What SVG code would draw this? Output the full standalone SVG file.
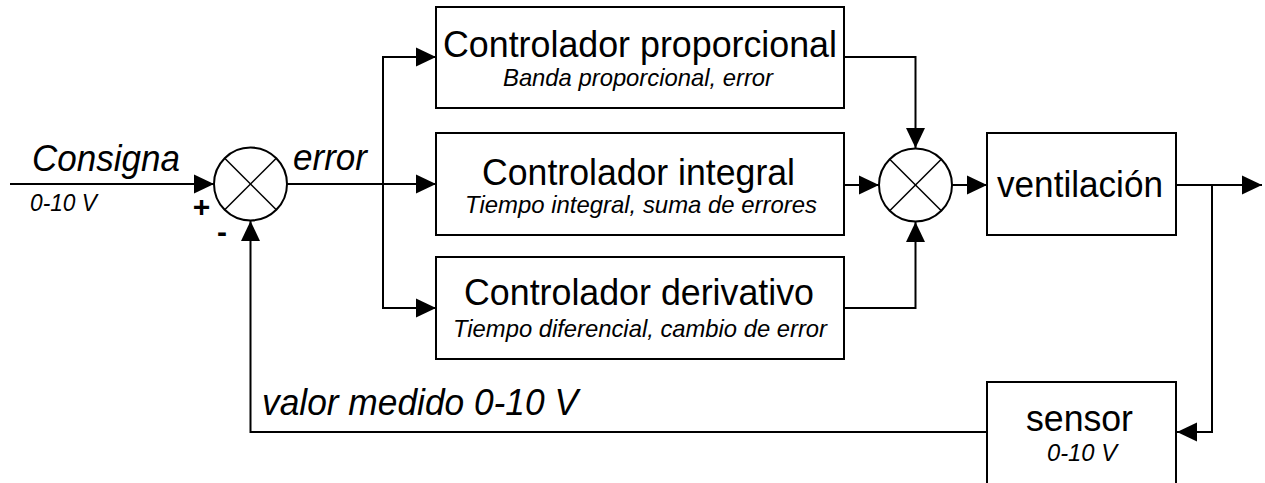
<svg xmlns="http://www.w3.org/2000/svg" width="1265" height="483" viewBox="0 0 1265 483">
<style>
.box{fill:#fff;stroke:#000;stroke-width:2}
.sum{fill:#fff;stroke:#000;stroke-width:2}
.x{stroke:#000;stroke-width:1.5}
.c{fill:none;stroke:#000;stroke-width:2;marker-end:url(#arr)}
.t{font-family:"Liberation Sans",Arial,sans-serif;font-size:37px;fill:#000}
.s{font-family:"Liberation Sans",Arial,sans-serif;font-size:24px;font-style:italic;fill:#000}
.i{font-style:italic}
.m{text-anchor:middle}
.b{font-family:"Liberation Sans",Arial,sans-serif;font-weight:bold;font-size:30px;fill:#000}
</style>
<defs>
<marker id="arr" viewBox="0 0 20 20" refX="20" refY="10" markerWidth="20" markerHeight="20" markerUnits="userSpaceOnUse" orient="auto">
<path d="M0,0.5 L20,10 L0,19.5 z" fill="#000"/>
</marker>
</defs>
<g id="connectors">
<path class="c" d="M10,184 H214"/>
<path class="c" d="M287,184 H436"/>
<path class="c" d="M383,184 V57 H436"/>
<path class="c" d="M383,184 V308 H436"/>
<path class="c" d="M844,57 H915.5 V148"/>
<path class="c" d="M844,185 H879"/>
<path class="c" d="M844,308 H915.5 V222"/>
<path class="c" d="M952,185 H987"/>
<path class="c" d="M1176,185 H1262"/>
<path class="c" d="M1212,185 V432 H1177"/>
<path class="c" d="M987,432 H250.5 V221"/>
</g>
<g id="sum1">
<circle class="sum" cx="250.5" cy="184" r="36.5"/>
<line class="x" x1="224.7" y1="158.2" x2="276.3" y2="209.8"/>
<line class="x" x1="276.3" y1="158.2" x2="224.7" y2="209.8"/>
</g>
<g id="sum2">
<circle class="sum" cx="915.5" cy="185" r="36.5"/>
<line class="x" x1="889.7" y1="159.2" x2="941.3" y2="210.8"/>
<line class="x" x1="941.3" y1="159.2" x2="889.7" y2="210.8"/>
</g>
<g id="labels">
<text class="t i" x="32" y="171" textLength="148" lengthAdjust="spacingAndGlyphs">Consigna</text>
<text class="s" x="30" y="211" textLength="67" lengthAdjust="spacingAndGlyphs">0-10 V</text>
<text class="t i" x="293" y="170" textLength="74" lengthAdjust="spacingAndGlyphs">error</text>
<text class="b m" x="201.5" y="217">+</text>
<text class="b m" x="222" y="242">-</text>
<text class="t i" x="262" y="415" textLength="316" lengthAdjust="spacingAndGlyphs">valor medido 0-10 V</text>
</g>
<g id="prop">
<rect class="box" x="436" y="7" width="408" height="101"/>
<text class="t m" x="640" y="57" textLength="394" lengthAdjust="spacingAndGlyphs">Controlador proporcional</text>
<text class="s m" x="638" y="86" textLength="270" lengthAdjust="spacingAndGlyphs">Banda proporcional, error</text>
</g>
<g id="integ">
<rect class="box" x="436" y="133" width="408" height="102"/>
<text class="t m" x="638.5" y="185" textLength="313" lengthAdjust="spacingAndGlyphs">Controlador integral</text>
<text class="s m" x="641" y="213" textLength="352" lengthAdjust="spacingAndGlyphs">Tiempo integral, suma de errores</text>
</g>
<g id="deriv">
<rect class="box" x="436" y="257" width="408" height="102"/>
<text class="t m" x="639" y="305" textLength="350" lengthAdjust="spacingAndGlyphs">Controlador derivativo</text>
<text class="s m" x="640" y="337" textLength="374" lengthAdjust="spacingAndGlyphs">Tiempo diferencial, cambio de error</text>
</g>
<g id="vent">
<rect class="box" x="987" y="133" width="189" height="102"/>
<text class="t m" x="1080" y="197" textLength="166" lengthAdjust="spacingAndGlyphs">ventilación</text>
</g>
<g id="sensor">
<rect class="box" x="987" y="382" width="189" height="110"/>
<text class="t m" x="1079.5" y="431" textLength="107" lengthAdjust="spacingAndGlyphs">sensor</text>
<text class="s m" x="1082" y="461" textLength="70" lengthAdjust="spacingAndGlyphs">0-10 V</text>
</g>
</svg>
